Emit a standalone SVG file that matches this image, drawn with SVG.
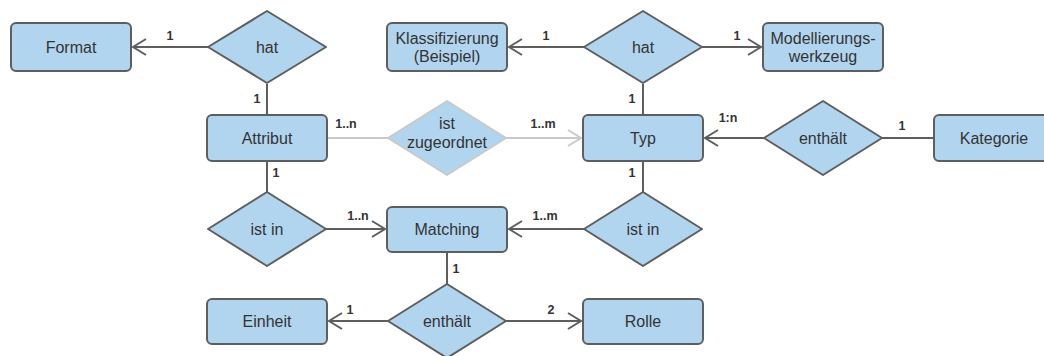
<svg xmlns="http://www.w3.org/2000/svg" width="1044" height="356" viewBox="0 0 1044 356">
  <defs>
    <style>
      .entity { fill: #b2d5ef; stroke: #5e5e5e; stroke-width: 2; }
      .rel { fill: #b2d5ef; stroke: #5e5e5e; stroke-width: 2; stroke-linejoin: round; }
      .rel-muted { fill: #b2d5ef; stroke: #c9c9c9; stroke-width: 2; stroke-linejoin: round; }
      .name { font-family: "Liberation Sans", Arial, sans-serif; font-size: 16px; fill: #333333; text-anchor: middle; }
      .card { font-family: "Liberation Sans", Arial, sans-serif; font-size: 12.5px; font-weight: bold; fill: #333333; text-anchor: middle; }
      .link { fill: none; stroke: #5e5e5e; stroke-width: 2; }
      .link-muted { fill: none; stroke: #c9c9c9; stroke-width: 2; }
    </style>
    <marker id="arrow" markerUnits="userSpaceOnUse" markerWidth="20" markerHeight="20" viewBox="-15 -10 17 20" refX="0" refY="0" orient="auto">
      <path d="M-13,-8 L0,0 L-13,8" fill="none" stroke="#5e5e5e" stroke-width="2"/>
    </marker>
    <marker id="arrow-muted" markerUnits="userSpaceOnUse" markerWidth="20" markerHeight="20" viewBox="-15 -10 17 20" refX="0" refY="0" orient="auto">
      <path d="M-13,-8 L0,0 L-13,8" fill="none" stroke="#c9c9c9" stroke-width="2"/>
    </marker>
  </defs>

  <rect width="1044" height="356" fill="#ffffff"/>

  <!-- connectors -->
  <g id="connectors">
    <path class="link" d="M208,47 H133" marker-end="url(#arrow)"/>
    <path class="link" d="M267,84 V115"/>
    <path class="link-muted" d="M327,138 H388"/>
    <path class="link-muted" d="M506,138 H581" marker-end="url(#arrow-muted)"/>
    <path class="link" d="M584,47 H509" marker-end="url(#arrow)"/>
    <path class="link" d="M702,47 H761" marker-end="url(#arrow)"/>
    <path class="link" d="M643,84 V115"/>
    <path class="link" d="M764,138 H705" marker-end="url(#arrow)"/>
    <path class="link" d="M934,138 H882"/>
    <path class="link" d="M267,161 V192"/>
    <path class="link" d="M326,229 H385" marker-end="url(#arrow)"/>
    <path class="link" d="M643,161 V192"/>
    <path class="link" d="M584,229 H509" marker-end="url(#arrow)"/>
    <path class="link" d="M447,252 V284"/>
    <path class="link" d="M388,321 H329" marker-end="url(#arrow)"/>
    <path class="link" d="M506,321 H581" marker-end="url(#arrow)"/>

    <!-- cardinalities -->
    <text class="card" x="170" y="40">1</text>
    <text class="card" x="257" y="103">1</text>
    <text class="card" x="346" y="128">1..n</text>
    <text class="card" x="543" y="128">1..m</text>
    <text class="card" x="546" y="40">1</text>
    <text class="card" x="737" y="40">1</text>
    <text class="card" x="632" y="103">1</text>
    <text class="card" x="728" y="122">1:n</text>
    <text class="card" x="902" y="130">1</text>
    <text class="card" x="276" y="177">1</text>
    <text class="card" x="358" y="220">1..n</text>
    <text class="card" x="545" y="220">1..m</text>
    <text class="card" x="632" y="177">1</text>
    <text class="card" x="456" y="273">1</text>
    <text class="card" x="350" y="314">1</text>
    <text class="card" x="551" y="314">2</text>
  </g>

  <!-- entities -->
  <g id="format">
    <rect class="entity" x="11" y="23" width="120" height="48" rx="5"/>
    <text class="name" x="71" y="53">Format</text>
  </g>
  <g id="klassifizierung">
    <rect class="entity" x="387" y="23" width="120" height="48" rx="5"/>
    <text class="name" x="447" y="44">Klassifizierung</text>
    <text class="name" x="447" y="62">(Beispiel)</text>
  </g>
  <g id="modellierungswerkzeug">
    <rect class="entity" x="763" y="23" width="120" height="48" rx="5"/>
    <text class="name" x="823" y="44">Modellierungs-</text>
    <text class="name" x="823" y="62">werkzeug</text>
  </g>
  <g id="attribut">
    <rect class="entity" x="207" y="115" width="120" height="46" rx="5"/>
    <text class="name" x="267" y="144">Attribut</text>
  </g>
  <g id="typ">
    <rect class="entity" x="583" y="115" width="120" height="46" rx="5"/>
    <text class="name" x="643" y="144">Typ</text>
  </g>
  <g id="kategorie">
    <rect class="entity" x="934" y="115" width="120" height="46" rx="5"/>
    <text class="name" x="994" y="144">Kategorie</text>
  </g>
  <g id="matching">
    <rect class="entity" x="387" y="207" width="120" height="45" rx="5"/>
    <text class="name" x="447" y="235">Matching</text>
  </g>
  <g id="einheit">
    <rect class="entity" x="207" y="299" width="120" height="45" rx="5"/>
    <text class="name" x="267" y="327">Einheit</text>
  </g>
  <g id="rolle">
    <rect class="entity" x="583" y="299" width="120" height="45" rx="5"/>
    <text class="name" x="643" y="327">Rolle</text>
  </g>

  <!-- relationships -->
  <g id="hat-format">
    <polygon class="rel" points="267,11 326,47 267,83 208,47"/>
    <text class="name" x="267" y="53">hat</text>
  </g>
  <g id="hat-typ">
    <polygon class="rel" points="643,11 702,47 643,83 584,47"/>
    <text class="name" x="643" y="53">hat</text>
  </g>
  <g id="ist-zugeordnet">
    <polygon class="rel-muted" points="447,101 506,138 447,175 388,138"/>
    <text class="name" x="447" y="129">ist</text>
    <text class="name" x="447" y="148">zugeordnet</text>
  </g>
  <g id="enthaelt-kategorie">
    <polygon class="rel" points="823,101 882,138 823,175 764,138"/>
    <text class="name" x="823" y="144">enthält</text>
  </g>
  <g id="ist-in-attribut">
    <polygon class="rel" points="267,192 326,229 267,266 208,229"/>
    <text class="name" x="267" y="235">ist in</text>
  </g>
  <g id="ist-in-typ">
    <polygon class="rel" points="643,192 702,229 643,266 584,229"/>
    <text class="name" x="643" y="235">ist in</text>
  </g>
  <g id="enthaelt-matching">
    <polygon class="rel" points="447,284 506,321 447,358 388,321"/>
    <text class="name" x="447" y="327">enthält</text>
  </g>
</svg>
